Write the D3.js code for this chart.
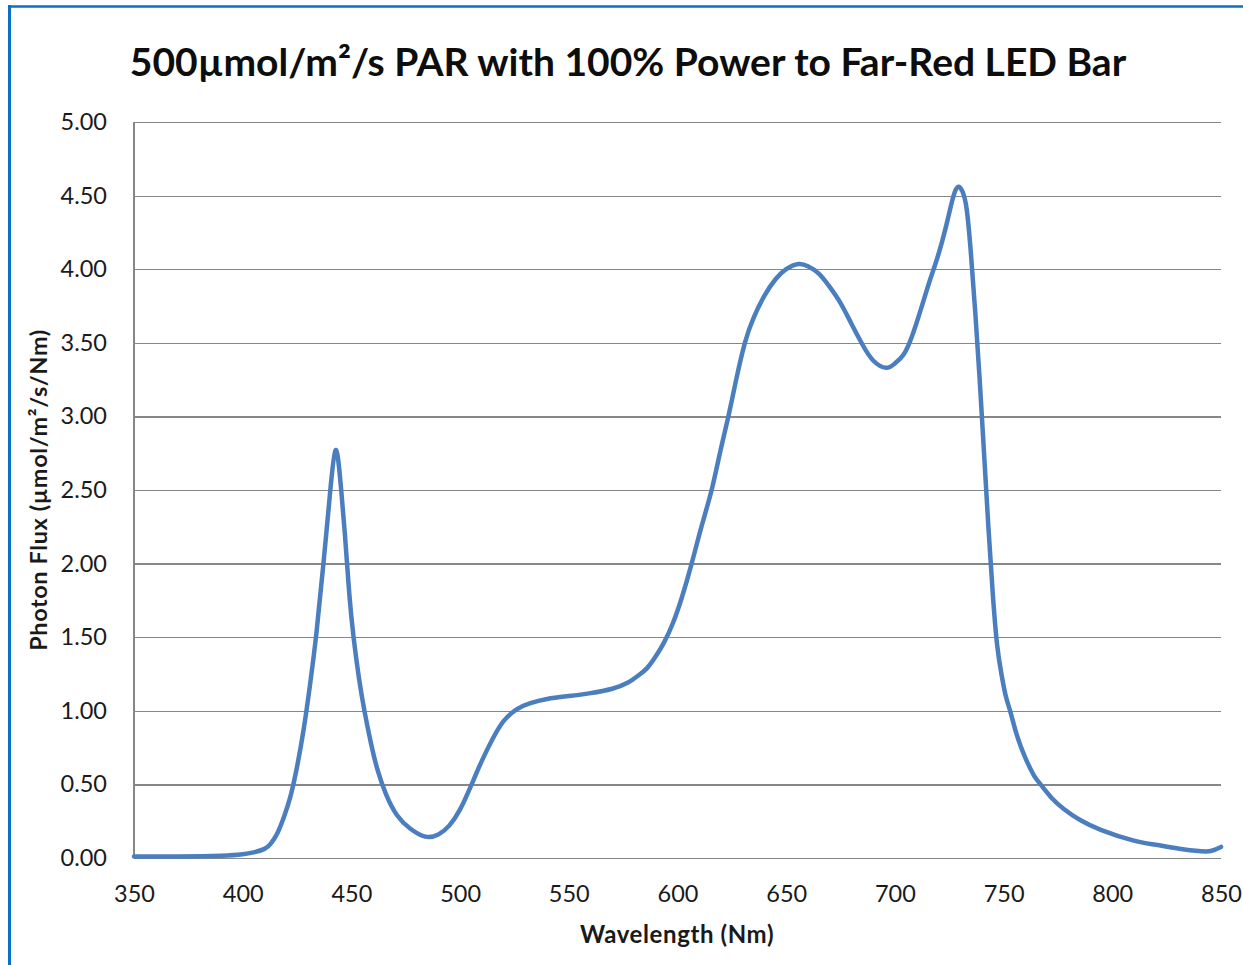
<!DOCTYPE html>
<html>
<head>
<meta charset="utf-8">
<script src="https://cdn.jsdelivr.net/npm/d3@7"></script>
<style>
  html, body { margin: 0; padding: 0; background: #fff; }
  svg { display: block; }
</style>
</head>
<body>
<svg id="chart" width="1243" height="965"></svg>
<script>
// ---- Data ----
const wavelengths = [350, 370, 390, 400, 405, 410, 413, 416, 419, 422, 425, 428, 431, 434, 437, 440, 442.7,
  445, 447, 449, 451, 453.5, 456, 459, 462, 466, 471, 477, 484, 490, 495, 500, 505, 510, 515, 520, 526,
  532, 540, 550, 560, 570, 577, 582, 586, 590, 594, 598, 602, 606.5, 611, 615.7, 619.5, 623.4, 627, 631,
  635, 640, 645, 650, 655.6, 660, 665, 670, 675, 680, 685, 690, 696, 700, 704, 708, 712, 716, 720, 724,
  727, 729.2, 731, 733, 735, 737, 739, 741, 743, 745, 747, 749, 751, 753, 756, 760, 764, 767, 772, 778,
  785, 795, 809.5, 820, 832.5, 843, 847, 850];
const photonFlux = [0.01, 0.01, 0.015, 0.025, 0.038, 0.062, 0.1, 0.17, 0.28, 0.42, 0.62, 0.87, 1.18, 1.54, 1.98,
  2.45, 2.77, 2.55, 2.2, 1.8, 1.5, 1.22, 1.0, 0.78, 0.6, 0.43, 0.29, 0.2, 0.145, 0.16, 0.22, 0.33, 0.49,
  0.66, 0.81, 0.93, 1.01, 1.05, 1.08, 1.1, 1.12, 1.15, 1.19, 1.24, 1.29, 1.37, 1.47, 1.6, 1.77, 2.0, 2.25,
  2.5, 2.75, 3.0, 3.25, 3.5, 3.67, 3.82, 3.93, 4.0, 4.035, 4.02, 3.97, 3.88, 3.77, 3.63, 3.49, 3.38, 3.33,
  3.36, 3.42, 3.55, 3.73, 3.92, 4.1, 4.32, 4.5, 4.56, 4.53, 4.41, 4.1, 3.7, 3.25, 2.75, 2.25, 1.8, 1.45,
  1.25, 1.1, 1.0, 0.84, 0.68, 0.56, 0.5, 0.41, 0.33, 0.26, 0.19, 0.12, 0.09, 0.06, 0.045, 0.055, 0.075];
const xTicks = [350, 400, 450, 500, 550, 600, 650, 700, 750, 800, 850];
const yTicks = [0, 0.5, 1, 1.5, 2, 2.5, 3, 3.5, 4, 4.5, 5];
const titleText = "500\u00B5mol/m\u00B2/s PAR with 100% Power to Far-Red LED Bar";
const xTitle = "Wavelength (Nm)";
const yTitle = "Photon Flux (\u00B5mol/m\u00B2/s/Nm)";

// ---- Layout ----
const svg = d3.select("#chart");
const plot = { left: 134, right: 1221, top: 122, bottom: 858 };
const FONT = "Lato, 'Open Sans', sans-serif";

const x = d3.scaleLinear().domain([350, 850]).range([plot.left, plot.right]);
const y = d3.scaleLinear().domain([0, 5]).range([plot.bottom, plot.top]);

// Frame (top and left blue border)
svg.append("line").attr("x1", 8).attr("x2", 1243).attr("y1", 6.5).attr("y2", 6.5)
  .attr("stroke", "#0a70c6").attr("stroke-width", 2.5);
svg.append("line").attr("x1", 9.5).attr("x2", 9.5).attr("y1", 5).attr("y2", 965)
  .attr("stroke", "#0a70c6").attr("stroke-width", 3);

// Gridlines + y labels
const yAxis = d3.axisLeft(y).tickValues(yTicks).tickSize(-(plot.right - plot.left))
  .tickFormat(d3.format(".2f")).tickPadding(27);
const gy = svg.append("g").attr("transform", `translate(${plot.left},0)`).call(yAxis);
gy.select(".domain").remove();
gy.selectAll(".tick line").attr("stroke", "#878787").attr("stroke-width", 1.2).attr("shape-rendering", "crispEdges");
gy.selectAll(".tick text").attr("font-family", FONT).attr("font-size", 23.5).attr("fill", "#1a1a1a");

// Left axis line
svg.append("line").attr("x1", plot.left).attr("x2", plot.left).attr("y1", plot.top).attr("y2", plot.bottom)
  .attr("stroke", "#878787").attr("stroke-width", 1.2).attr("shape-rendering", "crispEdges");

// X axis labels
const xAxis = d3.axisBottom(x).tickValues(xTicks).tickSize(0).tickPadding(27).tickFormat(d3.format("d"));
const gx = svg.append("g").attr("transform", `translate(0,${plot.bottom})`).call(xAxis);
gx.select(".domain").remove();
gx.selectAll(".tick text").attr("font-family", FONT).attr("font-size", 23.5).attr("fill", "#1a1a1a");

// Curve
const line = d3.line().x((d, i) => x(wavelengths[i])).y(d => y(d)).curve(d3.curveNatural);
svg.append("path").datum(photonFlux).attr("d", line)
  .attr("fill", "none").attr("stroke", "#4a7ebf").attr("stroke-width", 4.5)
  .attr("stroke-linejoin", "round").attr("stroke-linecap", "round");

// Title
const t = svg.append("text").attr("x", 628).attr("y", 76).attr("text-anchor", "middle")
  .attr("font-family", FONT).attr("font-weight", "bold").attr("font-size", 35).attr("fill", "#0d0d0d")
  .text(titleText);
const tw = t.node().getComputedTextLength();
t.attr("font-size", 35 * 997 / tw);

// Axis titles
svg.append("text").attr("x", 677).attr("y", 943).attr("text-anchor", "middle")
  .attr("font-family", FONT).attr("font-weight", "bold").attr("font-size", 24).attr("letter-spacing", 0.6)
  .attr("fill", "#1a1a1a").text(xTitle);
svg.append("text").attr("transform", "translate(47,490) rotate(-90)").attr("text-anchor", "middle")
  .attr("font-family", FONT).attr("font-weight", "bold").attr("font-size", 23.5).attr("letter-spacing", 0.6)
  .attr("fill", "#1a1a1a").text(yTitle);
</script>
</body>
</html>
